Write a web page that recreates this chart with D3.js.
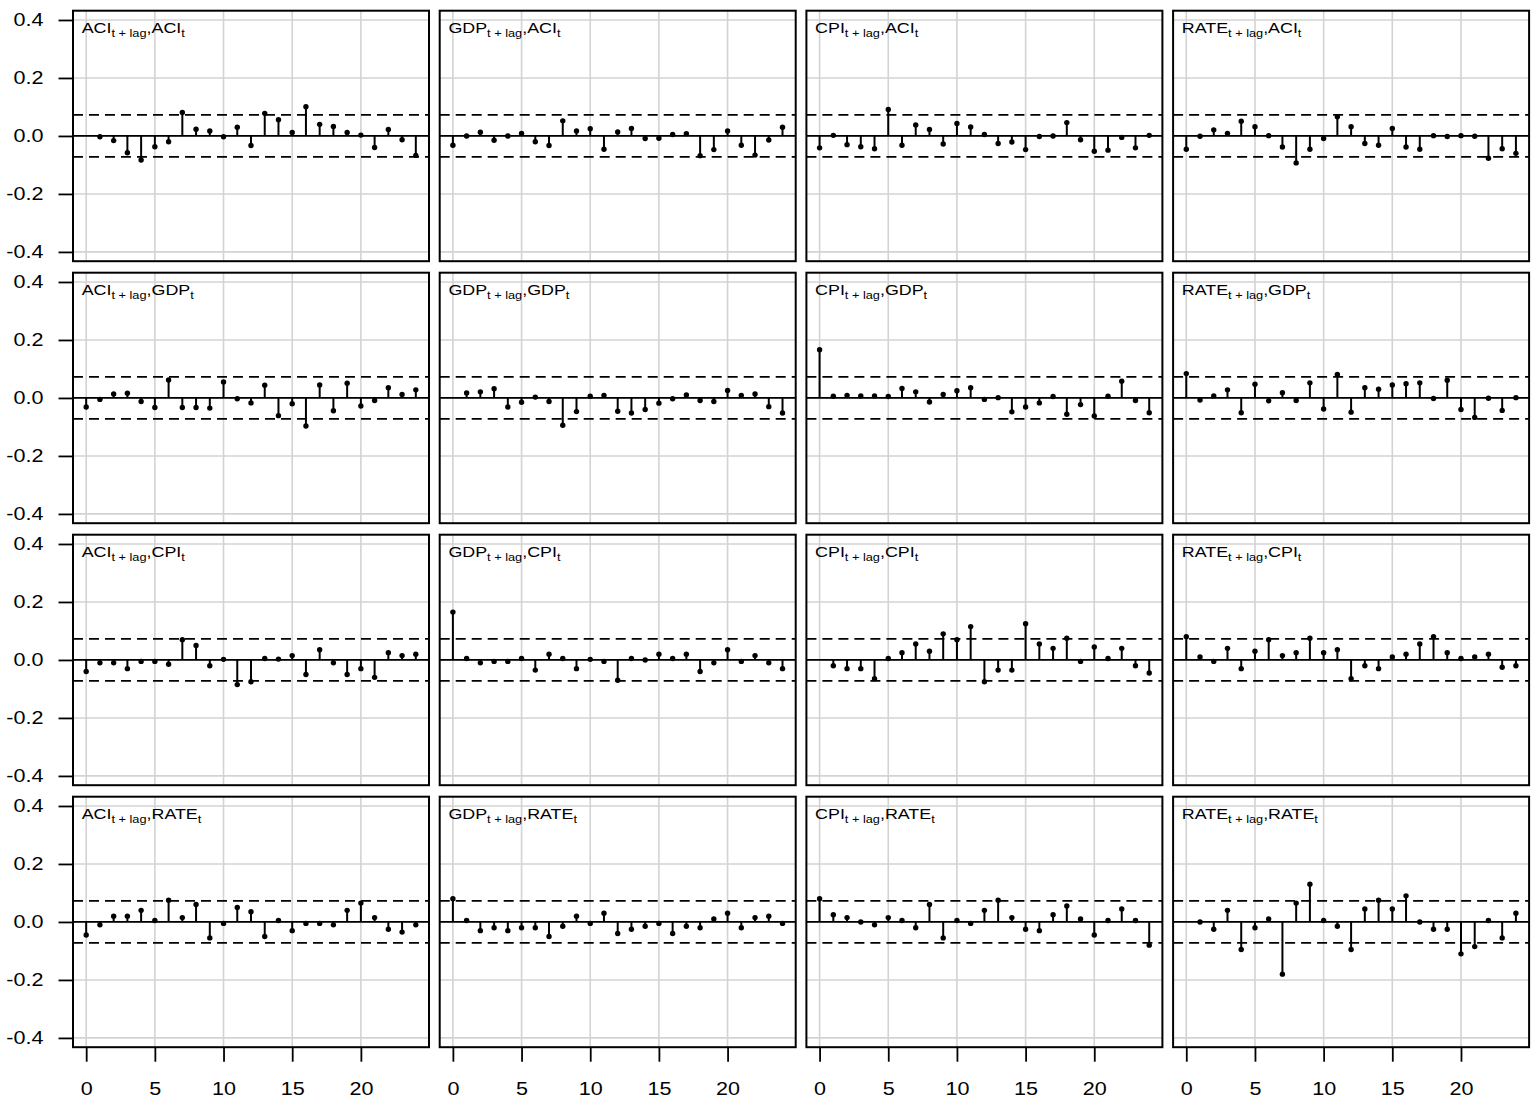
<!DOCTYPE html>
<html>
<head>
<meta charset="utf-8">
<script src="https://cdn.jsdelivr.net/npm/d3@7"></script>
<style>
  body { margin: 0; background: #fff; }
  text { font-family: "Liberation Sans", Arial, Helvetica, sans-serif; fill: #000; }
</style>
</head>
<body>
<svg width="1540" height="1100"></svg>
<script>
// series names: rows are the variable at t, columns the variable at t + lag
const variables = ['ACI', 'GDP', 'CPI', 'RATE'];
const lags = d3.range(0, 25);
const xTicks = [0, 5, 10, 15, 20];
const yTicks = [-0.4, -0.2, 0.0, 0.2, 0.4];
const bound = 0.0725;

// cross-correlations for lags 0..24 (null = lag not drawn)
// row ACI_t
const aciAci  = [null, -0.003, -0.016, -0.058, -0.083, -0.037, -0.020, 0.081, 0.023, 0.017, -0.003, 0.030, -0.033, 0.078, 0.056, 0.012, 0.101, 0.040, 0.033, 0.012, 0.003, -0.040, 0.022, -0.013, -0.067];
const gdpAci  = [-0.032, 0.000, 0.013, -0.015, 0.000, 0.009, -0.020, -0.033, 0.052, 0.017, 0.025, -0.046, 0.014, 0.026, -0.009, -0.008, 0.005, 0.008, -0.068, -0.047, 0.017, -0.032, -0.066, -0.014, 0.030];
const cpiAci  = [-0.041, 0.002, -0.030, -0.037, -0.044, 0.091, -0.032, 0.038, 0.022, -0.028, 0.043, 0.031, 0.005, -0.026, -0.021, -0.047, -0.002, 0.000, 0.046, -0.013, -0.053, -0.049, -0.005, -0.041, 0.002];
const rateAci = [-0.046, -0.001, 0.021, 0.009, 0.051, 0.032, 0.001, -0.038, -0.093, -0.046, -0.009, 0.066, 0.032, -0.026, -0.032, 0.026, -0.038, -0.046, 0.001, -0.002, 0.001, -0.001, -0.077, -0.044, -0.060];
// row GDP_t
const aciGdp  = [-0.031, -0.005, 0.014, 0.016, -0.012, -0.033, 0.062, -0.033, -0.033, -0.035, 0.055, -0.003, -0.017, 0.044, -0.061, -0.020, -0.097, 0.045, -0.044, 0.051, -0.028, -0.009, 0.035, 0.012, 0.028];
const gdpGdp  = [null, 0.017, 0.021, 0.032, -0.031, -0.015, 0.003, -0.012, -0.094, -0.047, 0.006, 0.009, -0.046, -0.052, -0.040, -0.018, -0.003, 0.010, -0.009, -0.012, 0.026, 0.009, 0.014, -0.030, -0.052];
const cpiGdp  = [0.166, 0.006, 0.009, 0.007, 0.007, 0.005, 0.033, 0.021, -0.014, 0.012, 0.025, 0.035, -0.005, 0.001, -0.048, -0.031, -0.017, 0.005, -0.056, -0.023, -0.062, 0.006, 0.058, -0.009, -0.051];
const rateGdp = [0.084, -0.007, 0.007, 0.028, -0.051, 0.047, -0.010, 0.018, -0.009, 0.052, -0.038, 0.081, -0.049, 0.035, 0.030, 0.045, 0.049, 0.052, -0.002, 0.061, -0.040, -0.067, -0.001, -0.043, 0.001];
// row CPI_t
const aciCpi  = [-0.040, -0.010, -0.010, -0.030, -0.005, -0.005, -0.015, 0.070, 0.050, -0.020, 0.002, -0.085, -0.075, 0.005, 0.003, 0.015, -0.050, 0.035, -0.010, -0.050, -0.030, -0.060, 0.025, 0.015, 0.020];
const gdpCpi  = [0.165, 0.005, -0.010, -0.005, -0.005, 0.005, -0.035, 0.020, 0.005, -0.030, 0.002, -0.005, -0.070, 0.005, 0.000, 0.020, 0.005, 0.020, -0.040, -0.010, 0.035, -0.005, 0.015, -0.010, -0.030];
const cpiCpi  = [null, -0.020, -0.030, -0.030, -0.065, 0.005, 0.025, 0.055, 0.030, 0.090, 0.070, 0.115, -0.075, -0.035, -0.035, 0.125, 0.055, 0.040, 0.075, -0.005, 0.045, 0.005, 0.040, -0.020, -0.045];
const rateCpi = [0.080, 0.010, -0.005, 0.040, -0.030, 0.030, 0.070, 0.015, 0.025, 0.075, 0.025, 0.035, -0.065, -0.020, -0.030, 0.010, 0.020, 0.055, 0.080, 0.025, 0.005, 0.010, 0.020, -0.025, -0.020];
// row RATE_t
const aciRate  = [-0.045, -0.010, 0.020, 0.020, 0.040, 0.005, 0.075, 0.015, 0.060, -0.055, -0.005, 0.050, 0.035, -0.050, 0.005, -0.030, -0.005, -0.005, -0.010, 0.040, 0.065, 0.015, -0.025, -0.035, -0.010];
const gdpRate  = [0.080, 0.005, -0.030, -0.020, -0.030, -0.020, -0.020, -0.050, -0.015, 0.020, -0.005, 0.030, -0.040, -0.025, -0.015, -0.005, -0.040, -0.015, -0.020, 0.010, 0.030, -0.020, 0.015, 0.020, -0.005];
const cpiRate  = [0.080, 0.025, 0.015, 0.000, -0.010, 0.015, 0.005, -0.020, 0.060, -0.055, 0.005, -0.005, 0.040, 0.075, 0.015, -0.025, -0.030, 0.025, 0.055, 0.010, -0.045, 0.005, 0.045, 0.005, -0.080];
const rateRate = [null, 0.000, -0.025, 0.040, -0.095, -0.020, 0.010, -0.180, 0.065, 0.130, 0.005, -0.015, -0.095, 0.045, 0.075, 0.045, 0.090, 0.000, -0.025, -0.025, -0.110, -0.085, 0.005, -0.055, 0.030];

const panels = [
  [aciAci, gdpAci, cpiAci, rateAci],
  [aciGdp, gdpGdp, cpiGdp, rateGdp],
  [aciCpi, gdpCpi, cpiCpi, rateCpi],
  [aciRate, gdpRate, cpiRate, rateRate]
];

const svg = d3.select('svg');
svg.append('rect').attr('width', 1540).attr('height', 1100).attr('fill', '#fff');

// panel geometry
const pw = 356, ph = 250.5;
const left0 = 73, top0 = 10.7, stepX = 366.7, stepY = 262;
// the text in the original is a little wider than it is tall
const stretch = 1.16;

const x = d3.scaleLinear().domain([-0.96, 24.96]).range([0, pw]);
const y = d3.scaleLinear().domain([-0.432, 0.432]).range([ph, 0]);
const fmt = d => d.toFixed(1);

panels.forEach((rowData, r) => rowData.forEach((values, c) => {
  const g = svg.append('g')
      .attr('transform', `translate(${left0 + c * stepX},${top0 + r * stepY})`);

  // grid
  g.selectAll('.vgrid').data(xTicks).join('line')
      .attr('class', 'vgrid')
      .attr('x1', d => x(d)).attr('x2', d => x(d))
      .attr('y1', 0).attr('y2', ph)
      .attr('stroke', '#d3d3d3').attr('stroke-width', 1.6);
  g.selectAll('.hgrid').data(yTicks).join('line')
      .attr('class', 'hgrid')
      .attr('x1', 0).attr('x2', pw)
      .attr('y1', d => y(d)).attr('y2', d => y(d))
      .attr('stroke', '#d3d3d3').attr('stroke-width', 1.6);

  // confidence bounds
  g.selectAll('.bound').data([bound, -bound]).join('line')
      .attr('class', 'bound')
      .attr('x1', 0).attr('x2', pw)
      .attr('y1', d => y(d)).attr('y2', d => y(d))
      .attr('stroke', '#000').attr('stroke-width', 1.8)
      .attr('stroke-dasharray', '10,6');

  // zero line
  g.append('line')
      .attr('x1', 0).attr('x2', pw)
      .attr('y1', y(0)).attr('y2', y(0))
      .attr('stroke', '#000').attr('stroke-width', 1.8);

  const pts = lags.map(l => ({ lag: l, v: values[l] })).filter(d => d.v !== null);

  g.selectAll('.stem').data(pts).join('line')
      .attr('class', 'stem')
      .attr('x1', d => x(d.lag)).attr('x2', d => x(d.lag))
      .attr('y1', y(0)).attr('y2', d => y(d.v))
      .attr('stroke', '#000').attr('stroke-width', 2);

  g.selectAll('.dot').data(pts).join('circle')
      .attr('class', 'dot')
      .attr('cx', d => x(d.lag)).attr('cy', d => y(d.v))
      .attr('r', 2.7).attr('fill', '#000');

  // panel label, e.g. GDP_{t + lag},ACI_t
  const label = g.append('text')
      .attr('transform', `translate(8.7,22.3) scale(${stretch},1)`)
      .style('font-size', '15.4px');
  label.append('tspan').text(variables[c]);
  label.append('tspan').text('t + lag').attr('dy', 4.2).style('font-size', '11px');
  label.append('tspan').text(',' + variables[r]).attr('dy', -4.2);
  label.append('tspan').text('t').attr('dy', 4.2).style('font-size', '11px');

  // axes
  if (c === 0) {
    const ay = g.append('g')
        .call(d3.axisLeft(y).tickValues(yTicks).tickFormat(fmt).tickSize(14.5).tickPadding(15));
    ay.select('.domain').remove();
    ay.selectAll('line').attr('stroke-width', 1.8);
    ay.selectAll('text')
        .style('font-size', '18.6px')
        .attr('x', -29.5 / stretch)
        .attr('transform', `scale(${stretch},1)`);
  }
  if (r === 3) {
    const ax = g.append('g')
        .attr('transform', `translate(0,${ph})`)
        .call(d3.axisBottom(x).tickValues(xTicks).tickSize(14.5).tickPadding(20.5));
    ax.select('.domain').remove();
    ax.selectAll('line').attr('stroke-width', 1.8);
    ax.selectAll('text')
        .style('font-size', '18.6px')
        .attr('transform', `scale(${stretch},1)`);
  }

  // panel box
  g.append('rect')
      .attr('width', pw).attr('height', ph)
      .attr('fill', 'none').attr('stroke', '#000').attr('stroke-width', 2);
}));
</script>
</body>
</html>
